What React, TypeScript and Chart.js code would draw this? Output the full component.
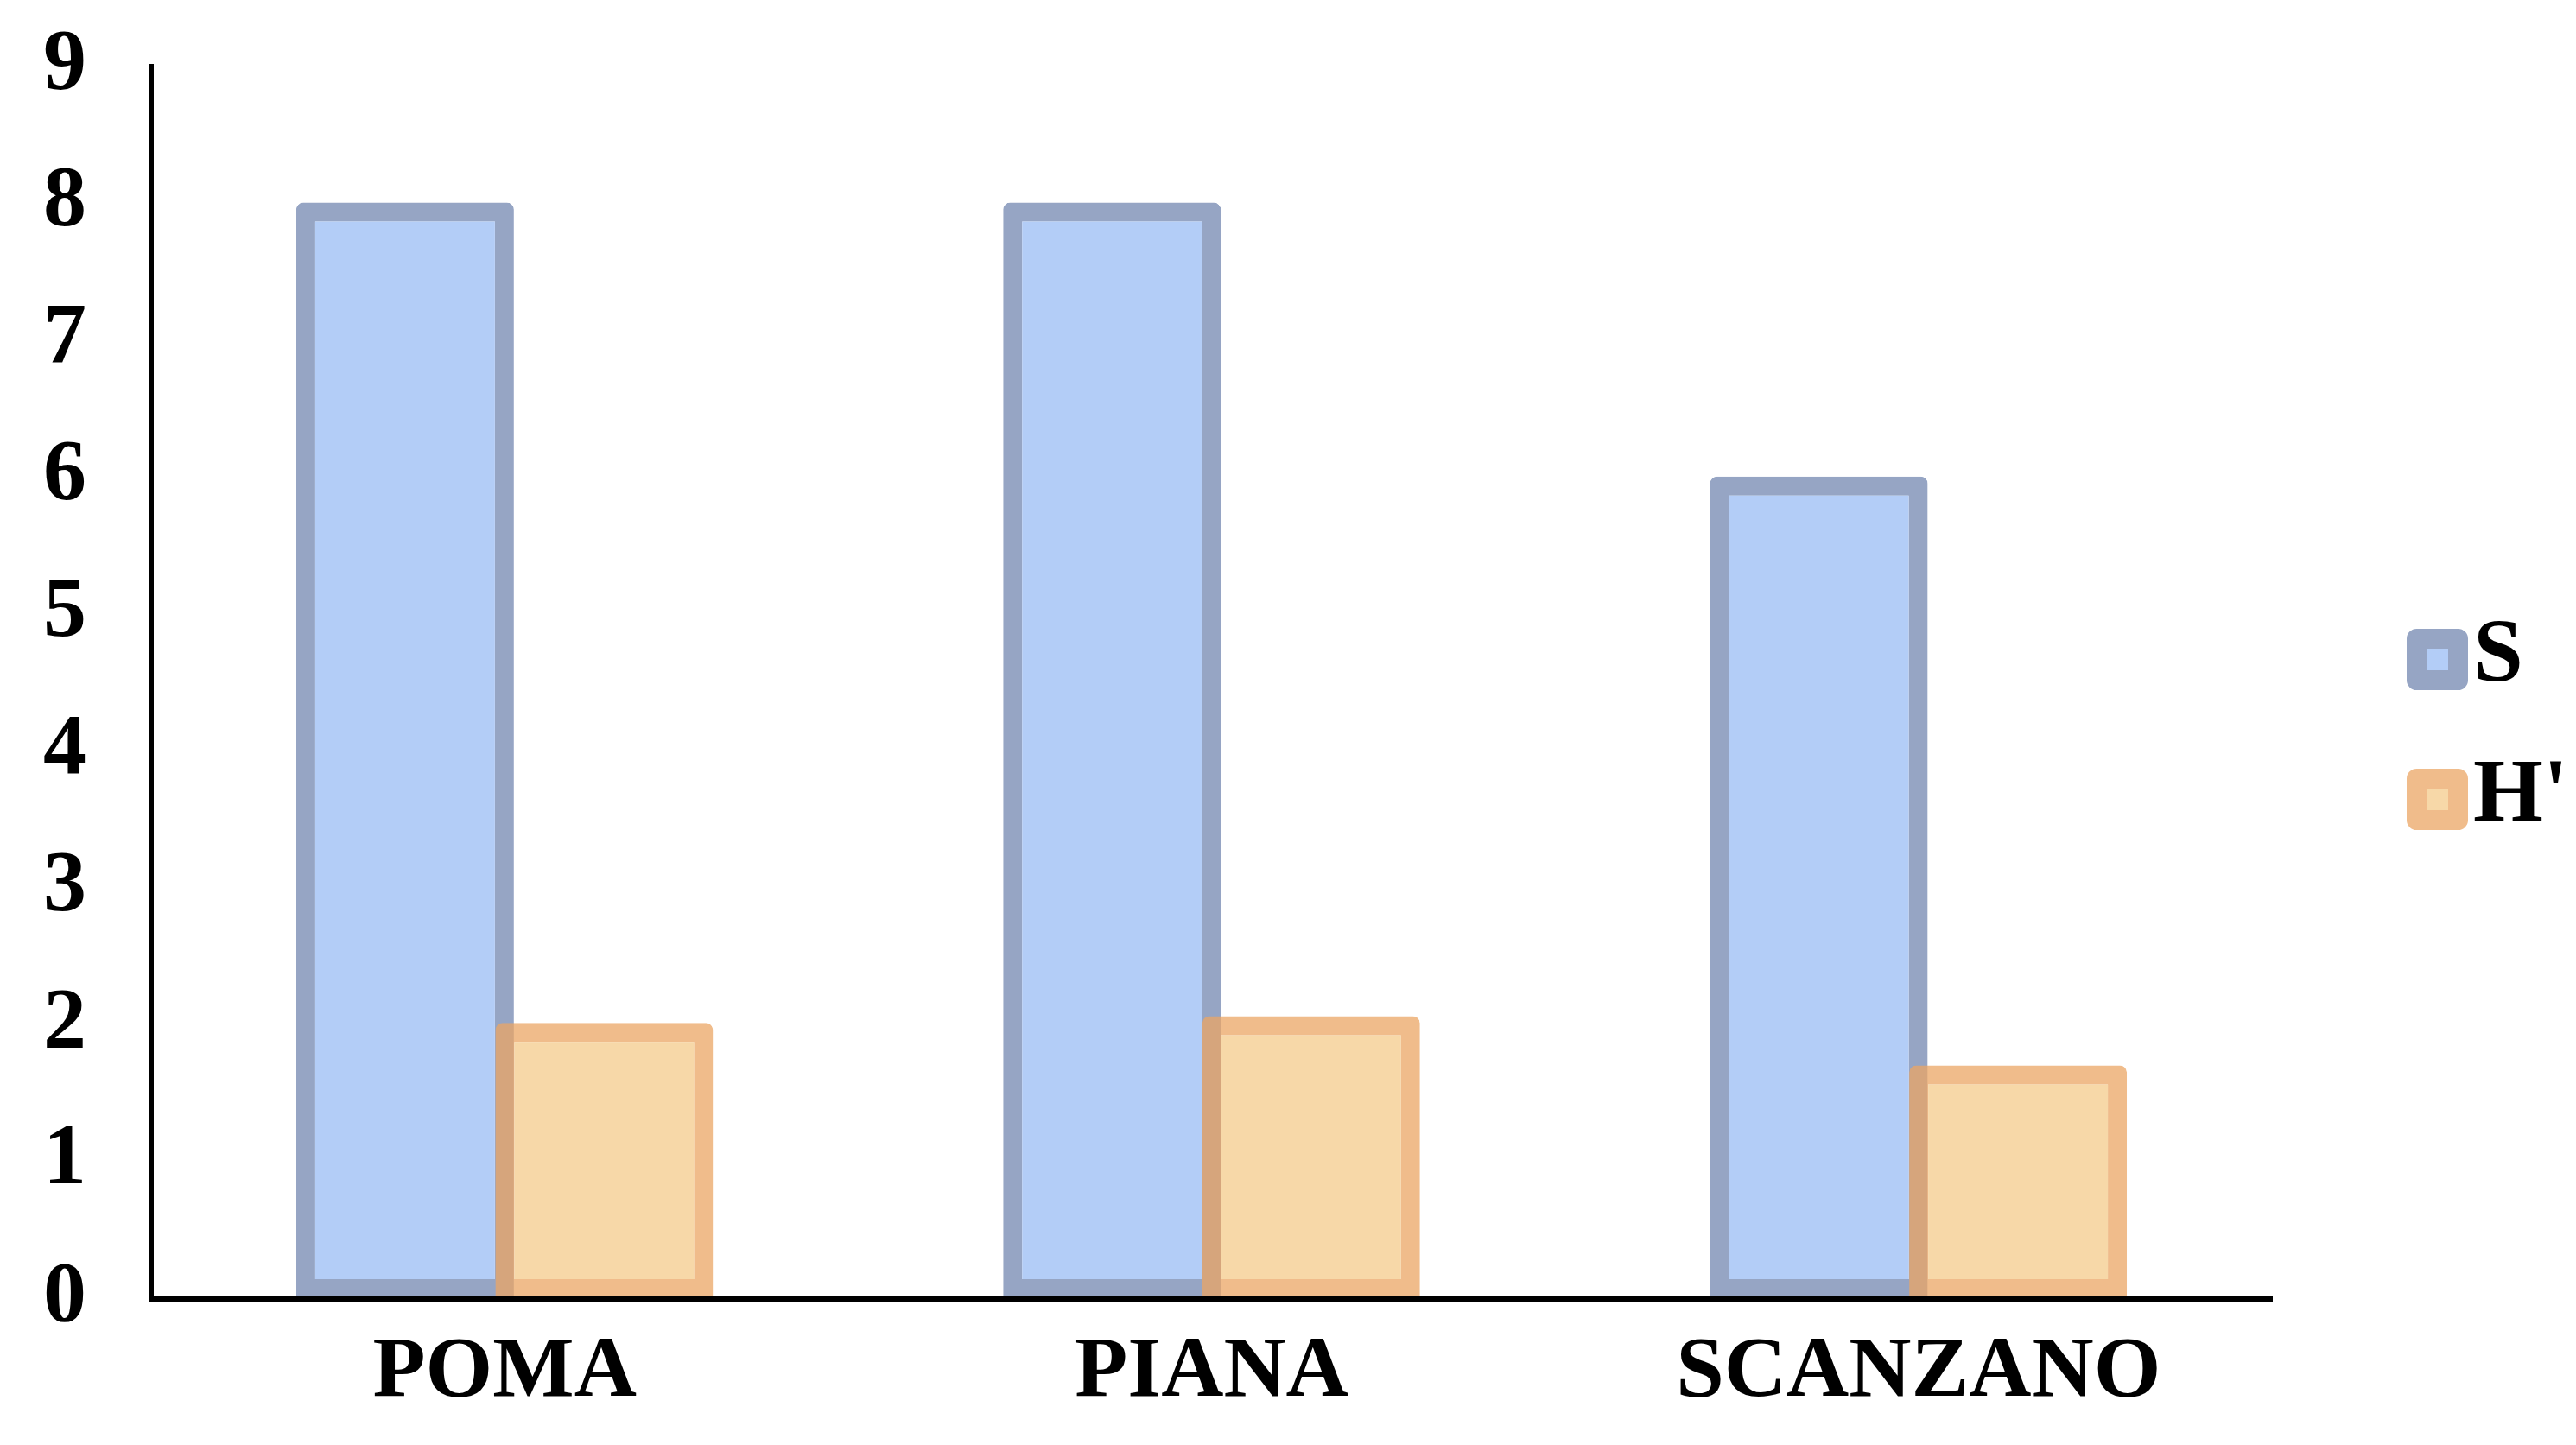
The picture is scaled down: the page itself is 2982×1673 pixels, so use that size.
import React, { useEffect, useRef } from 'react';
import { Chart, registerables } from 'chart.js';

Chart.register(...registerables);

// ---- data ----
const categories = ['POMA', 'PIANA', 'SCANZANO'];
const seriesLabels = ['S', "H'"];
const valuesS = [8, 8, 6];
const valuesH = [2.01, 2.06, 1.7];
const yMin = 0;
const yMax = 9;
const yStep = 1;

// ---- styles ----
const FONT_FAMILY = '"Liberation Serif", "Times New Roman", serif';
const FONT_SIZE = 100;
const COLORS = {
  sFill: 'rgb(179,205,247)',
  sBorder: 'rgb(150,165,196)',
  hFill: 'rgba(246,209,153,0.85)',
  hBorder: 'rgba(235,165,100,0.75)',
};

// draw datasets in index order so the second series sits on top of the first
const drawOrderPlugin = {
  id: 'drawOrder',
  beforeDatasetsDraw(chart: any) {
    const ctx = chart.ctx;
    const area = chart.chartArea;
    ctx.save();
    ctx.beginPath();
    ctx.rect(area.left, area.top - 30, area.width, area.height + 60);
    ctx.clip();
    for (let i = 0; i < chart.data.datasets.length; i++) {
      if (chart.isDatasetVisible(i)) chart.getDatasetMeta(i).controller.draw();
    }
    ctx.restore();
    return false;
  },
};

// side legend drawn next to the plot area
const sideLegendPlugin = {
  id: 'sideLegend',
  afterDraw(chart: any) {
    const { ctx, chartArea } = chart;
    const boxOuter = 71;
    const stroke = 23;
    const left = chartArea.right + 156;
    const firstTop = chartArea.top + 652;
    const rowGap = 162;
    ctx.save();
    chart.data.datasets.forEach((ds: any, i: number) => {
      const top = firstTop + i * rowGap;
      const inner = boxOuter - 2 * stroke;
      ctx.fillStyle = ds.backgroundColor;
      ctx.fillRect(left + stroke, top + stroke, inner, inner);
      ctx.strokeStyle = ds.borderColor;
      ctx.lineWidth = stroke;
      ctx.lineJoin = 'round';
      ctx.strokeRect(left + stroke / 2, top + stroke / 2, boxOuter - stroke, boxOuter - stroke);
      ctx.fillStyle = '#000';
      ctx.font = `bold ${FONT_SIZE + 4}px ${FONT_FAMILY}`;
      ctx.textAlign = 'left';
      ctx.textBaseline = 'alphabetic';
      ctx.fillText(ds.label, left + boxOuter + 6, top + boxOuter / 2 + 24);
    });
    ctx.restore();
  },
};

export default function App() {
  const canvasRef = useRef<HTMLCanvasElement | null>(null);

  useEffect(() => {
    const canvas = canvasRef.current;
    if (!canvas) return;
    const barCommon = {
      borderWidth: 22,
      borderSkipped: false,
      borderRadius: { topLeft: 8, topRight: 8, bottomLeft: 0, bottomRight: 0 },
      categoryPercentage: 0.5634,
      barPercentage: 1.093,
    };
    const chart = new Chart(canvas, {
      type: 'bar',
      data: {
        labels: categories,
        datasets: [
          {
            label: seriesLabels[0],
            data: valuesS,
            backgroundColor: COLORS.sFill,
            borderColor: COLORS.sBorder,
            ...barCommon,
          },
          {
            label: seriesLabels[1],
            data: valuesH,
            backgroundColor: COLORS.hFill,
            borderColor: COLORS.hBorder,
            ...barCommon,
          },
        ],
      } as any,
      options: {
        animation: false,
        responsive: false,
        maintainAspectRatio: false,
        devicePixelRatio: 1,
        layout: { padding: { left: 49, top: 76, right: 352, bottom: 21 } },
        plugins: {
          legend: { display: false },
          tooltip: { enabled: false },
          title: { display: false },
        },
        scales: {
          x: {
            grid: { display: false, drawTicks: false },
            border: { display: true, color: '#000', width: 7, z: 1 },
            ticks: {
              color: '#000',
              padding: 27,
              font: { family: FONT_FAMILY, size: FONT_SIZE, weight: 'bold' },
            },
            afterFit(scale: any) {
              scale.height = 149;
              scale.paddingLeft = 0;
              scale.paddingRight = 0;
            },
          },
          y: {
            min: yMin,
            max: yMax,
            grid: { display: false, drawTicks: false },
            border: { display: true, color: '#000', width: 5, z: 1 },
            ticks: {
              stepSize: yStep,
              color: '#000',
              padding: 75,
              font: { family: FONT_FAMILY, size: FONT_SIZE, weight: 'bold' },
            },
            afterFit(scale: any) {
              scale.width = 126;
              scale.paddingTop = 0;
              scale.paddingBottom = 0;
            },
          },
        },
      } as any,
      plugins: [drawOrderPlugin, sideLegendPlugin],
    });
    return () => chart.destroy();
  }, []);

  return (
    <canvas
      ref={canvasRef}
      width={2982}
      height={1673}
      style={{ position: 'absolute', left: 0, top: 0, display: 'block', background: '#fff' }}
    />
  );
}
